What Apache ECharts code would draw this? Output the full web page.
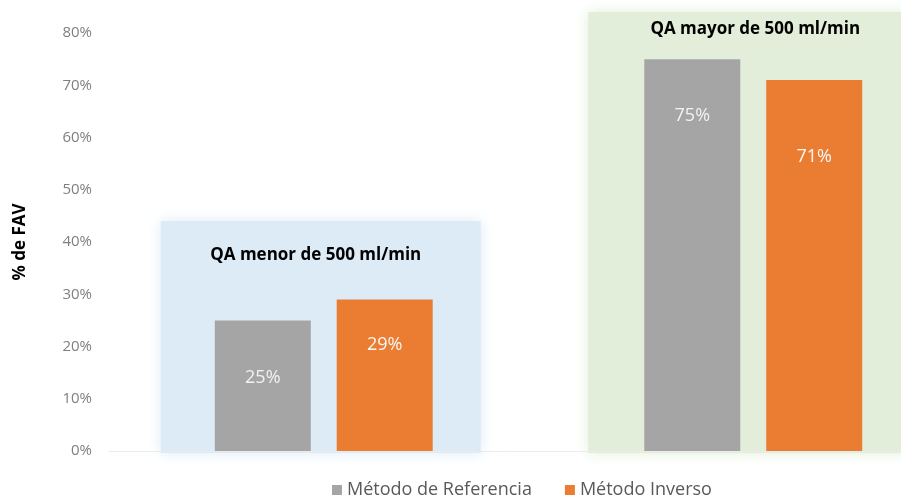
<!DOCTYPE html>
<html><head><meta charset="utf-8">
<script src="https://cdn.jsdelivr.net/npm/echarts@6/dist/echarts.min.js"></script>
<style>html,body{margin:0;padding:0;background:#fff}#c{width:901px;height:496px}</style>
</head><body><div id="c"></div>
<script>
const categories = ['QA menor de 500 ml/min', 'QA mayor de 500 ml/min'];
const seriesNames = ['Método de Referencia', 'Método Inverso'];
const referencia = [25, 75];
const inverso = [29, 71];
const yTicks = [0, 10, 20, 30, 40, 50, 60, 70, 80];

const chart = echarts.init(document.getElementById('c'));
const FONT = '"Open Sans", "Liberation Sans", sans-serif';
const orangeLabelDist = [36, 68];

chart.setOption({
  animation: false,
  grid: { left: 109, right: -67, top: 33, bottom: 45, outerBoundsMode: 'none' },
  legend: {
    left: 327, top: 476, icon: 'rect', itemWidth: 10, itemHeight: 10, itemGap: 33,
    textStyle: { color: '#595959', fontSize: 18, fontFamily: FONT },
    data: seriesNames
  },
  xAxis: {
    type: 'category', data: categories,
    axisLine: { show: true, lineStyle: { color: '#ebebeb', width: 1 } },
    axisTick: { show: false }, axisLabel: { show: false }, splitLine: { show: false }
  },
  yAxis: {
    type: 'value', min: yTicks[0], max: yTicks[yTicks.length - 1], interval: 10,
    name: '% de FAV', nameLocation: 'middle', nameGap: 80, nameRotate: 90,
    nameTextStyle: { color: '#000', fontSize: 17, fontWeight: 'bold', fontFamily: FONT },
    axisLine: { show: false }, axisTick: { show: false }, splitLine: { show: false },
    axisLabel: { color: '#7f7f7f', fontSize: 15, fontFamily: FONT, margin: 17, formatter: v => v + '%' }
  },
  series: [
    {
      name: seriesNames[0], type: 'bar', data: referencia, barWidth: 96, barGap: '27%',
      itemStyle: { color: '#a5a5a5' },
      label: { show: true, position: 'insideTop', distance: 48, color: '#f2f2f2', fontSize: 18, fontFamily: FONT, formatter: p => p.value + '%' }
    },
    {
      name: seriesNames[1], type: 'bar', barWidth: 96,
      data: inverso.map((v, i) => ({ value: v, label: { distance: orangeLabelDist[i] } })),
      itemStyle: { color: '#ea7d32' },
      label: { show: true, position: 'insideTop', distance: 48, color: '#f7f7f7', fontSize: 18, fontFamily: FONT, formatter: p => p.value + '%' }
    }
  ]
});

function px(cat, val) { return chart.convertToPixel({ xAxisIndex: 0, yAxisIndex: 0 }, [cat, val]); }
const boxTop = [44, 84];
const boxFill = ['#ddebf7', '#e2eed9'];
const titleVal = [37.5, 80.7];
const titleDx = [-8, 2];
const boxDx = [-3, -5];
const graphics = [];
categories.forEach((c, i) => {
  const top = px(c, boxTop[i]);
  const bot = px(c, 0);
  const cx = top[0] + boxDx[i];
  graphics.push({
    type: 'rect', z: -10,
    shape: { x: cx - 160, y: top[1], width: 320, height: bot[1] - top[1] + 2 },
    style: { fill: boxFill[i], shadowBlur: 14, shadowColor: boxFill[i] }
  });
  const t = px(c, titleVal[i]);
  graphics.push({
    type: 'text', z: 10, x: t[0] + titleDx[i], y: t[1],
    style: { text: c, fill: '#000', font: 'bold 17px ' + FONT, align: 'center', verticalAlign: 'middle' }
  });
});
chart.setOption({ graphic: graphics });
</script></body></html>
